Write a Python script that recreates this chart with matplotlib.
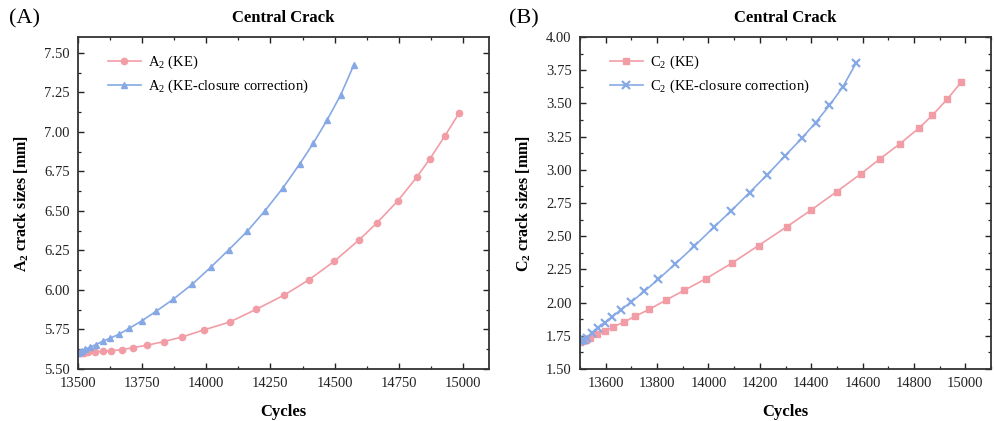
import matplotlib
matplotlib.use('Agg')
import matplotlib.pyplot as plt
from matplotlib.ticker import MultipleLocator, FormatStrFormatter

plt.rcParams['font.family'] = ['Liberation Serif', 'DejaVu Serif']
plt.rcParams['mathtext.fontset'] = 'custom'
plt.rcParams['mathtext.rm'] = 'Liberation Serif'
plt.rcParams['mathtext.bf'] = 'Liberation Serif:bold'

# cycles for the two models
cycles_ke = [13500, 13508, 13516, 13525, 13540, 13568, 13597, 13630, 13670, 13716,
             13770, 13834, 13906, 13990, 14091, 14195, 14304, 14399, 14499, 14595,
             14666, 14746, 14820, 14872, 14930, 14985]
cycles_cc = [13500, 13506, 13514, 13526, 13546, 13570, 13596, 13625, 13660, 13700,
             13750, 13805, 13870, 13945, 14020, 14088, 14160, 14229, 14297, 14364,
             14417, 14471, 14523, 14574]

# (A) A2 crack sizes
a2_ke = [5.600, 5.601, 5.602, 5.603, 5.605, 5.608, 5.612, 5.616, 5.622, 5.635,
         5.651, 5.673, 5.703, 5.747, 5.797, 5.878, 5.968, 6.063, 6.182, 6.316,
         6.426, 6.563, 6.713, 6.831, 6.975, 7.118]
a2_cc = [5.600, 5.606, 5.613, 5.624, 5.637, 5.655, 5.675, 5.695, 5.720, 5.758,
         5.806, 5.866, 5.940, 6.036, 6.148, 6.255, 6.372, 6.502, 6.642, 6.797,
         6.928, 7.076, 7.231, 7.420]

# (B) C2 crack sizes
c2_ke = [1.705, 1.710, 1.715, 1.722, 1.730, 1.760, 1.787, 1.817, 1.853, 1.898,
         1.950, 2.018, 2.093, 2.180, 2.297, 2.430, 2.570, 2.696, 2.835, 2.972,
         3.080, 3.197, 3.315, 3.411, 3.533, 3.662]
c2_cc = [1.710, 1.718, 1.722, 1.734, 1.770, 1.810, 1.850, 1.893, 1.947, 2.005,
         2.085, 2.176, 2.290, 2.425, 2.566, 2.690, 2.829, 2.963, 3.103, 3.239,
         3.355, 3.485, 3.624, 3.801]

red = '#F29DA6'
blue = '#86A9E6'

fig = plt.figure(figsize=(9.94, 4.21), dpi=100)
ax1 = fig.add_axes([0.0785, 0.1235, 0.413, 0.7886])
ax2 = fig.add_axes([0.5835, 0.1235, 0.4135, 0.7886])


def style(ax, xmaj, xmin, ylabel):
    ax.xaxis.set_major_locator(MultipleLocator(xmaj))
    ax.xaxis.set_minor_locator(MultipleLocator(xmin))
    ax.yaxis.set_major_locator(MultipleLocator(0.25))
    ax.yaxis.set_minor_locator(MultipleLocator(0.125))
    ax.yaxis.set_major_formatter(FormatStrFormatter('%.2f'))
    ax.tick_params(which='both', direction='in', top=True, right=True,
                   labelsize=10.5, colors='#222222')
    ax.tick_params(which='major', length=4.5, width=1)
    ax.tick_params(which='minor', length=2.5, width=0.9)
    ax.tick_params(axis='x', which='major', pad=6)
    ax.tick_params(axis='y', which='major', pad=6)
    for s in ax.spines.values():
        s.set_linewidth(1.3)
        s.set_color('#333333')
    ax.set_xlabel('Cycles', fontsize=12, fontweight='bold', labelpad=10)
    ax.set_ylabel(ylabel, fontsize=11.5, fontweight='bold', labelpad=9)
    ax.set_title('Central Crack', fontsize=12, fontweight='bold', pad=11)
    ax.legend(loc='upper left', frameon=False, fontsize=10.5,
              bbox_to_anchor=(0.04, 0.99), handlelength=2.3,
              handletextpad=0.5, labelspacing=0.5)


ax1.plot(cycles_ke, a2_ke, color=red, marker='o', ms=4.5, lw=1.2,
         label=r'A$_2$ (KE)')
ax1.plot(cycles_cc, a2_cc, color=blue, marker='^', ms=5, lw=1.2,
         label=r'A$_2$ (KE-closure correction)')
ax1.set_xlim(13500, 15100)
ax1.set_ylim(5.5, 7.6)
style(ax1, 250, 125, r'$\mathbf{A_2}$ crack sizes [mm]')

ax2.plot(cycles_ke, c2_ke, color=red, marker='s', ms=4, lw=1.2,
         label=r'C$_2$ (KE)')
ax2.plot(cycles_cc, c2_cc, color=blue, marker='x', ms=5.5, mew=1.6, lw=1.2,
         label=r'C$_2$ (KE-closure correction)')
ax2.set_xlim(13500, 15100)
ax2.set_ylim(1.5, 4.0)
style(ax2, 200, 100, r'$\mathbf{C_2}$ crack sizes [mm]')

fig.text(0.009, 0.955, '(A)', fontsize=16, va='center', ha='left')
fig.text(0.512, 0.955, '(B)', fontsize=16, va='center', ha='left')

fig.savefig('out.png', dpi=100)
